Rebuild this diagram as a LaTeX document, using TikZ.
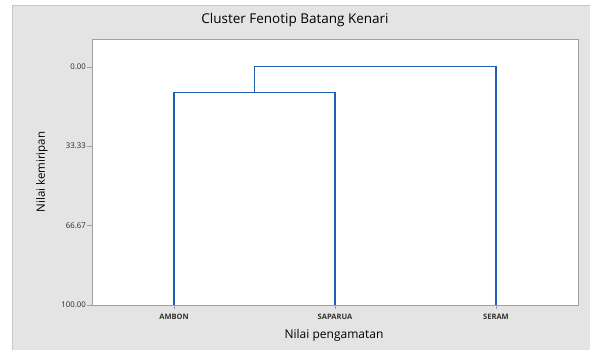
\documentclass[tikz,border=0pt]{standalone}
\usepackage{fontspec}
\setmainfont{Open Sans}
\definecolor{panel}{HTML}{E4E4E4}
\definecolor{panelborder}{HTML}{C6C6C6}
\definecolor{axisgray}{HTML}{A0A0A0}
\definecolor{dendro}{HTML}{1F5FAF}
\begin{document}
\begin{tikzpicture}[x=1pt,y=-1pt,
  tick/.style={draw=axisgray,line width=0.8pt},
  ticklab/.style={font=\fontsize{7.8}{8}\selectfont,inner sep=0pt,text=black!85},
  xlab/.style={font=\fontsize{7.5}{8}\selectfont\bfseries,inner sep=0pt,text=black!80},
  axtitle/.style={font=\fontsize{11.5}{12}\selectfont,inner sep=0pt},
  link/.style={draw=dendro,line width=1.7pt}]
\useasboundingbox (0,0) rectangle (590,349);
\fill[white] (0,0) rectangle (590,349);
% panel
\filldraw[fill=panel,draw=panelborder,line width=0.8pt] (12.5,5.5) rectangle (592,351);
% plot area
\filldraw[fill=white,draw=axisgray,line width=0.8pt] (92,39.5) rectangle (578.5,305);
% title
\node[font=\fontsize{13.5}{15}\selectfont] (title) at (295,20) {Cluster Fenotip Batang Kenari};
% y ticks
\foreach \v/\y in {0.00/67,33.33/146,66.67/225.5,100.00/305}{
  \draw[tick] (87,\y) -- (92,\y);
  \node[ticklab,anchor=east] at (86,\y) {\v};
}
\node[axtitle,rotate=90] (ytitle) at (42,172) {Nilai kemiripan};
% x labels
\coordinate (a) at (174,305);
\coordinate (s) at (335,305);
\coordinate (r) at (496,305);
\foreach \c in {a,s,r}{\draw[tick] (\c) -- ++(0,4);}
\node[xlab] (la) at (174,317) {AMBON};
\node[xlab] (ls) at (335,317) {SAPARUA};
\node[xlab] (lr) at (496,317) {SERAM};
\node[font=\fontsize{12}{13}\selectfont,inner sep=0pt] (xtitle) at (334,335.5) {Nilai pengamatan};
% dendrogram
\coordinate (j1) at (254.5,92.5);
\coordinate (top) at (254.5,66.5);
\draw[link] (a) -- (174,92.5) -- (335,92.5) -- (s);
\draw[link] (j1) -- (top) -- (496,66.5) -- (r);
\end{tikzpicture}
\end{document}
